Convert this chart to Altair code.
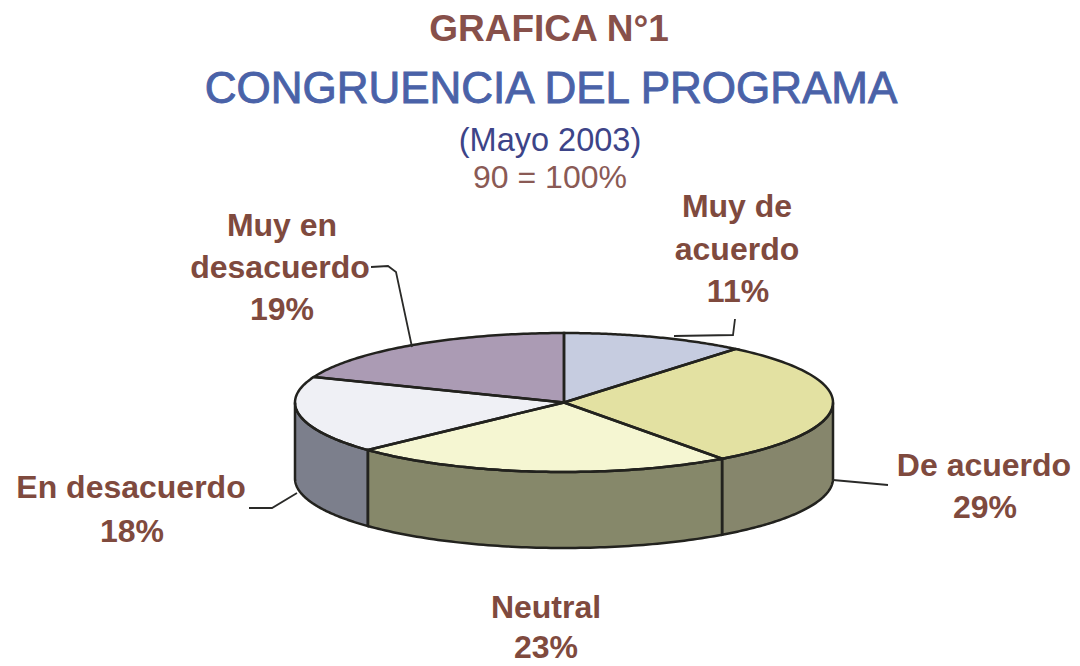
import numpy as np
import pandas as pd
import altair as alt

# --- data ---
categories = ["Muy de acuerdo", "De acuerdo", "Neutral", "En desacuerdo", "Muy en desacuerdo"]
shares = [11, 29, 23, 18, 19]
top_colors = ["#c6cce0", "#e3e1a2", "#f5f6d2", "#eff0f5", "#ab9bb4"]
wall_colors = ["#8f92a0", "#86866c", "#86886a", "#7c7f8c", "#776c7e"]

title_rows = ["GRAFICA N°1", "CONGRUENCIA DEL PROGRAMA", "(Mayo 2003)", "90 = 100%"]
label_rows = ["Muy en", "desacuerdo", "19%", "Muy de", "acuerdo", "11%", "De acuerdo", "29%",
              "En desacuerdo", "18%", "Neutral", "23%"]

# --- layout of the drawing (image pixels) ---
CX, CY, A, B, DEPTH = 564.0, 402.5, 269.0, 69.5, 76.0
W, H = 1064, 658
xs = alt.Scale(domain=[8, 8 + W], nice=False, zero=False)
ys = alt.Scale(domain=[8 + H, 8], nice=False, zero=False)
X = alt.X("x:Q", scale=xs, axis=None)
Y = alt.Y("y:Q", scale=ys, axis=None)


def rim(t0, t1, dy=0.0, n=80):
    t = np.radians(np.linspace(t0, t1, n))
    return CX + A * np.sin(t), CY - B * np.cos(t) + dy


def envelope(px, py):
    """Upper and lower edge of a closed outline, for an area mark."""
    grid = np.unique(np.concatenate([px, np.linspace(px.min(), px.max(), 500)]))
    rows = []
    qx, qy = np.roll(px, -1), np.roll(py, -1)
    for g in grid:
        hits = []
        for a, b, c, d in zip(px, py, qx, qy):
            if min(a, c) <= g <= max(a, c):
                hits += [b, d] if a == c else [b + (d - b) * (g - a) / (c - a)]
        rows.append((g, min(hits), max(hits)))
    return rows


tops, walls, outlines = [], [], []
cum = np.cumsum([0] + shares) * 3.6
for i, c in enumerate(categories):
    t0, t1 = cum[i], cum[i + 1]
    ax, ay = rim(t0, t1)
    px, py = np.r_[CX, ax], np.r_[CY, ay]
    for g, lo, hi in envelope(px, py):
        tops.append(dict(cat=c, x=g, y=lo, y2=hi))
    for k, (u, v) in enumerate(zip(np.r_[px, CX], np.r_[py, CY])):
        outlines.append(dict(id=f"t{i}", k=k, x=u, y=v))
    w0, w1 = max(t0, 90), min(t1, 270)
    if w1 > w0:
        bx, by = rim(w0, w1)
        dx, dy = rim(w0, w1, DEPTH)
        qx, qy = np.r_[bx, dx[::-1]], np.r_[by, dy[::-1]]
        for g, lo, hi in envelope(qx, qy):
            walls.append(dict(cat=c, x=g, y=lo, y2=hi))
        for k, (u, v) in enumerate(zip(np.r_[qx, qx[0]], np.r_[qy, qy[0]])):
            outlines.append(dict(id=f"w{i}", k=k, x=u, y=v))

color_top = alt.Color("cat:N", scale=alt.Scale(domain=categories, range=top_colors), legend=None)
color_wall = alt.Color("cat:N", scale=alt.Scale(domain=categories, range=wall_colors), legend=None)

wall_area = alt.Chart(pd.DataFrame(walls)).mark_area(interpolate="linear", opacity=1).encode(
    x=X, y=Y, y2="y2:Q", color=color_wall, detail="cat:N")
top_area = alt.Chart(pd.DataFrame(tops)).mark_area(interpolate="linear", opacity=1).encode(
    x=X, y=Y, y2="y2:Q", color=color_top, detail="cat:N")
outline = alt.Chart(pd.DataFrame(outlines)).mark_line(color="#22221e", strokeWidth=2.5).encode(
    x=X, y=Y, detail="id:N", order="k:Q")

leaders = pd.DataFrame([
    dict(id="a", k=0, x=371, y=267), dict(id="a", k=1, x=388, y=266), dict(id="a", k=2, x=396, y=272),
    dict(id="a", k=3, x=412, y=347),
    dict(id="b", k=0, x=674, y=336), dict(id="b", k=1, x=733, y=335), dict(id="b", k=2, x=735, y=319),
    dict(id="c", k=0, x=833, y=480), dict(id="c", k=1, x=888, y=485),
    dict(id="d", k=0, x=249, y=508), dict(id="d", k=1, x=272, y=508), dict(id="d", k=2, x=297, y=493),
])
leader = alt.Chart(leaders).mark_line(color="#2a2a28", strokeWidth=1.8).encode(
    x=X, y=Y, detail="id:N", order="k:Q")

title_df = pd.DataFrame({
    "t": title_rows,
    "x": [549, 551, 550, 550],
    "y": [30, 90, 141, 178],
    "size": [37, 44, 32.5, 32],
    "col": ["#87504a", "#4a62a8", "#3d4488", "#8a5a55"],
})
label_df = pd.DataFrame({
    "t": label_rows,
    "x": [282, 280, 282, 737, 737, 738, 984, 985, 131, 132, 546, 546],
    "y": [226, 268, 310, 207, 250, 292, 466, 508, 488, 532, 608, 648],
})

title_bold = alt.Chart(title_df.iloc[[0]]).mark_text(font="Liberation Sans", baseline="middle", align="center",
                                                     fontWeight="bold").encode(
    x=X, y=Y, text="t:N", size=alt.Size("size:Q", scale=None, legend=None),
    color=alt.Color("col:N", scale=None, legend=None))
title_main = alt.Chart(title_df.iloc[[1]]).mark_text(font="Liberation Sans", baseline="middle", align="center",
                                                     stroke="#4a62a8", strokeWidth=0.9).encode(
    x=X, y=Y, text="t:N", size=alt.Size("size:Q", scale=None, legend=None),
    color=alt.Color("col:N", scale=None, legend=None))
titles = alt.Chart(title_df.iloc[2:]).mark_text(font="Liberation Sans", baseline="middle", align="center").encode(
    x=X, y=Y, text="t:N", size=alt.Size("size:Q", scale=None, legend=None),
    color=alt.Color("col:N", scale=None, legend=None))
labels = alt.Chart(label_df).mark_text(font="Liberation Sans", baseline="middle", align="center",
                                       fontWeight="bold", fontSize=32, color="#7f4a3e").encode(
    x=X, y=Y, text="t:N")

chart = alt.layer(wall_area, top_area, outline, leader, title_bold, title_main, titles, labels).resolve_scale(
    color="independent"
).properties(width=W, height=H, padding=0, autosize=alt.AutoSizeParams(type="none"), background="white"
).configure_view(stroke=None)

chart.save("out.html", embed_options={"renderer": "svg", "actions": False})
